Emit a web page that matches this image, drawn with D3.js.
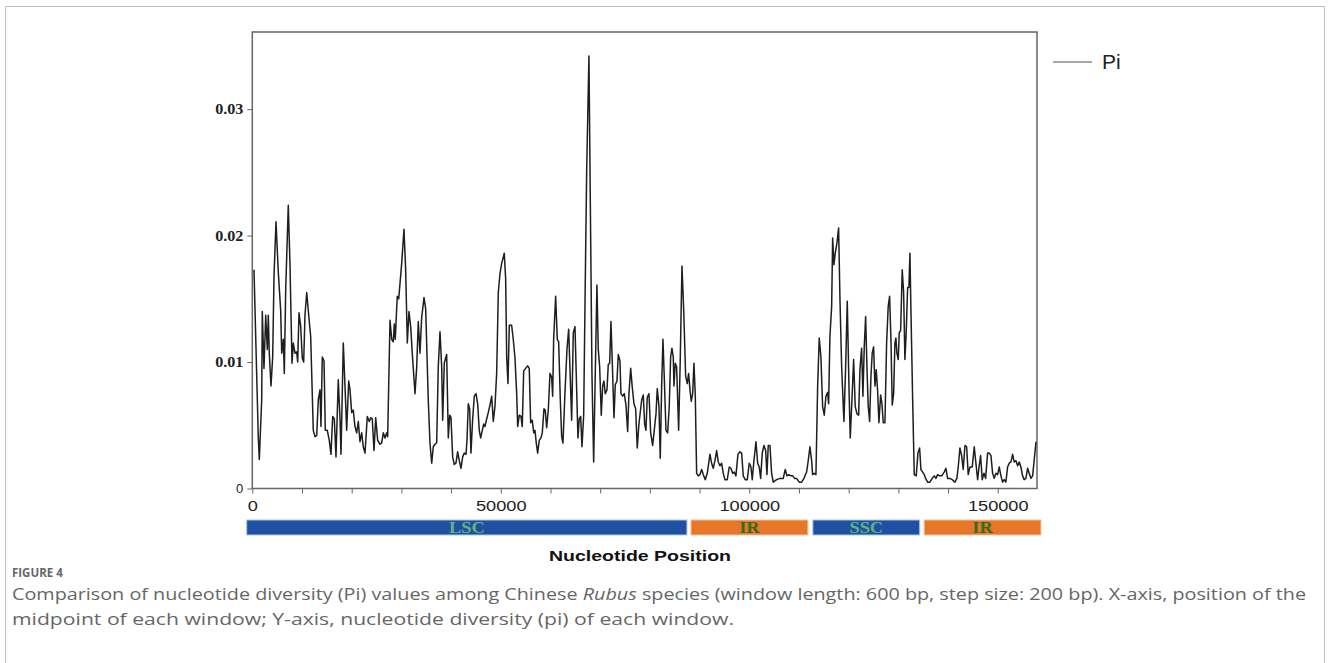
<!DOCTYPE html>
<html lang="en">
<head>
<meta charset="UTF-8">
<title>Figure 4 - Nucleotide diversity (Pi)</title>
<script src="https://d3js.org/d3.v7.min.js"></script>
<style>
  body { margin: 0; background: #fff; }
  svg { display: block; }
  .ylab { font-family: "Liberation Serif", "Times New Roman", serif; font-weight: bold; font-size: 14px; fill: #222; }
  .ylab0 { font-family: "Liberation Sans", Arial, sans-serif; font-weight: normal; font-size: 13px; fill: #222; }
  .xlab { font-family: "Liberation Sans", Arial, sans-serif; font-size: 14px; fill: #222; }
  .caption { font-family: "Open Sans", sans-serif; fill: #666; }
</style>
</head>
<body>
<svg width="1330" height="663"></svg>
<script>
// window midpoints, in kb
const posKb = [
  0.34, 1.21, 1.41, 1.89, 2.01, 2.35, 2.70, 3.02, 3.22, 3.42,
  3.76, 4.10, 4.37, 4.77, 5.23, 5.71, 5.92, 6.24, 6.44, 6.72,
  7.24, 7.59, 7.99, 8.25, 8.59, 8.93, 9.13, 9.40, 9.74, 10.06,
  10.34, 10.60, 10.95, 11.35, 11.75, 12.27, 12.62, 12.96, 13.28, 13.62,
  13.82, 14.08, 14.43, 14.69, 15.09, 15.49, 15.83, 16.18, 16.50, 16.84,
  17.30, 17.65, 17.85, 18.31, 18.65, 18.99, 19.40, 19.66, 20.00, 20.32,
  20.66, 21.01, 21.33, 21.67, 22.01, 22.33, 22.68, 23.14, 23.54, 23.82,
  24.14, 24.49, 24.83, 25.23, 25.69, 26.04, 26.36, 26.70, 27.04, 27.24,
  27.71, 28.05, 28.37, 28.57, 28.77, 29.17, 29.46, 30.06, 30.52, 30.86,
  31.19, 31.53, 31.87, 32.19, 32.74, 33.08, 33.40, 33.74, 34.08, 34.55,
  34.89, 35.41, 35.75, 36.10, 36.42, 36.76, 37.10, 37.42, 37.77, 38.11,
  38.31, 38.63, 39.11,
  39.44, 39.72, 39.98, 40.32, 40.64, 40.98, 41.32, 41.65, 41.99, 42.33,
  42.65, 43.00, 43.20, 43.46, 43.74, 44.00, 44.34, 44.67, 45.01, 45.35,
  45.67, 45.95, 46.28, 46.56, 46.82, 47.16, 47.48, 47.83, 48.17, 48.49,
  48.83, 49.17, 49.50, 49.84, 50.18, 50.70, 50.98, 51.19, 51.45, 51.71,
  52.19, 52.51, 52.86, 53.20, 53.40, 53.72, 54.06, 54.32, 54.61, 55.01,
  55.41, 55.73, 56.01, 56.34, 56.62, 56.88, 57.14, 57.42, 57.74, 58.09,
  58.35, 58.69, 58.95, 59.23, 59.56, 59.90, 60.24, 60.44, 60.64, 61.04,
  61.37, 61.65, 61.97, 62.25, 62.51, 62.91, 63.32, 63.66, 63.92, 64.26,
  64.59, 64.93, 65.27, 65.53, 65.79, 66.07, 66.34, 66.68, 66.94, 67.28,
  67.74, 68.09, 68.35, 68.69, 69.01, 69.35, 69.62, 69.90, 70.22, 70.50,
  70.76, 71.02, 71.37, 71.63, 71.91, 72.17, 72.43, 72.78, 73.04, 73.38,
  73.64, 73.98, 74.18, 74.53, 74.85, 75.19, 75.53, 75.79, 76.14, 76.46,
  76.80, 77.14, 77.46, 77.80,
  78.35, 78.67, 78.95, 79.21, 79.47, 79.82, 80.16, 80.56, 80.88, 81.23,
  81.49, 81.83, 82.09, 82.37, 82.63, 82.89, 83.24, 83.58, 83.90, 84.18,
  84.44, 84.71, 84.85, 85.11, 85.39, 85.79, 86.11, 86.46, 86.80, 87.20,
  87.52, 87.80, 88.07, 88.33, 88.61, 88.87, 89.13, 89.41, 89.74, 90.08,
  90.42, 90.74, 91.14, 91.55, 92.09, 92.43, 92.75, 93.10, 93.44, 93.76,
  94.10, 94.44, 94.77, 95.11, 95.57, 95.97, 96.31, 96.66, 96.98, 97.32,
  97.72, 98.12, 98.47, 98.79, 99.19, 99.60, 100.00, 100.34, 100.60, 100.94,
  101.35, 101.69, 102.01, 102.29, 102.61, 102.95, 103.30, 103.56, 103.82, 104.16,
  104.50, 104.83, 105.51, 106.17, 106.84, 107.24, 107.58, 107.98, 108.33, 108.73,
  109.13, 109.53, 110.06, 110.54, 111.00, 111.54, 111.87, 112.21, 112.55, 112.75,
  113.07, 113.42, 113.76, 114.08, 114.42, 114.76, 115.09, 115.43, 115.77, 115.97,
  116.23, 116.58, 116.78, 117.04, 117.30, 117.64, 117.98,
  118.25, 118.59, 119.05, 119.39, 119.72, 120.06, 120.32, 120.66, 121.00, 121.32,
  121.67, 122.01, 122.27, 122.61, 122.87, 123.14, 123.42, 123.68, 123.94, 124.22,
  124.48, 124.74, 125.02, 125.29, 125.55, 125.83, 126.09, 126.43, 126.70, 126.96,
  127.30, 127.64, 127.96, 128.24, 128.51, 128.77, 129.05, 129.31, 129.51, 129.71,
  129.98, 130.18, 130.46, 130.78, 131.06, 131.32, 131.58, 131.87, 132.13, 132.33,
  132.53, 132.88, 133.20, 133.60, 133.94, 134.28, 134.54, 134.88, 135.21, 135.49,
  135.89, 136.35, 136.81, 137.22, 137.56, 137.90, 138.30, 138.71, 139.23, 139.57,
  139.91, 140.38, 140.84, 141.38, 141.78, 142.05, 142.39, 142.73, 143.05, 143.40,
  143.74, 144.06, 144.40, 144.87, 145.27, 145.61, 145.95, 146.27, 146.55, 146.88,
  147.22, 147.56, 147.96, 148.29, 148.63, 148.97, 149.29, 149.63, 149.98, 150.30,
  150.64, 150.98, 151.30, 151.64, 151.98, 152.31, 152.65, 152.99, 153.31, 153.66,
  154.00, 154.32, 154.66, 155.00, 155.33, 155.67, 156.01, 156.33, 156.67, 157.02,
  157.70
];

// nucleotide diversity of each window
const piValues = [
  0.0173, 0.0040, 0.0023, 0.0070, 0.0140, 0.0095, 0.0137, 0.0110, 0.0137, 0.0107,
  0.0081, 0.0104, 0.0168, 0.0211, 0.0171, 0.0141, 0.0107, 0.0118, 0.0091, 0.0157,
  0.0224, 0.0176, 0.0099, 0.0115, 0.0107, 0.0108, 0.0100, 0.0139, 0.0128, 0.0103,
  0.0100, 0.0137, 0.0155, 0.0137, 0.0120, 0.0046, 0.0041, 0.0042, 0.0070, 0.0078,
  0.0049, 0.0104, 0.0101, 0.0046, 0.0046, 0.0038, 0.0027, 0.0057, 0.0055, 0.0025,
  0.0086, 0.0055, 0.0027, 0.0115, 0.0081, 0.0046, 0.0085, 0.0078, 0.0060, 0.0062,
  0.0049, 0.0044, 0.0053, 0.0037, 0.0044, 0.0033, 0.0028, 0.0057, 0.0053, 0.0056,
  0.0055, 0.0030, 0.0056, 0.0038, 0.0035, 0.0036, 0.0044, 0.0040, 0.0044, 0.0041,
  0.0133, 0.0118, 0.0116, 0.0130, 0.0118, 0.0152, 0.0150, 0.0178, 0.0205, 0.0173,
  0.0115, 0.0140, 0.0128, 0.0107, 0.0075, 0.0096, 0.0132, 0.0107, 0.0135, 0.0151,
  0.0142, 0.0070, 0.0036, 0.0020, 0.0033, 0.0035, 0.0036, 0.0096, 0.0124, 0.0096,
  0.0054, 0.0099, 0.0106,
  0.0040, 0.0058, 0.0056, 0.0025, 0.0019, 0.0020, 0.0029, 0.0022, 0.0016, 0.0025,
  0.0028, 0.0027, 0.0038, 0.0067, 0.0063, 0.0028, 0.0055, 0.0073, 0.0075, 0.0067,
  0.0046, 0.0040, 0.0046, 0.0051, 0.0049, 0.0055, 0.0060, 0.0066, 0.0073, 0.0053,
  0.0065, 0.0091, 0.0155, 0.0170, 0.0178, 0.0186, 0.0166, 0.0104, 0.0083, 0.0129,
  0.0129, 0.0118, 0.0103, 0.0075, 0.0049, 0.0058, 0.0057, 0.0049, 0.0093, 0.0095,
  0.0097, 0.0095, 0.0052, 0.0054, 0.0044, 0.0046, 0.0036, 0.0028, 0.0038, 0.0040,
  0.0044, 0.0063, 0.0062, 0.0048, 0.0062, 0.0091, 0.0088, 0.0073, 0.0118, 0.0152,
  0.0118, 0.0116, 0.0071, 0.0041, 0.0036, 0.0075, 0.0110, 0.0126, 0.0095, 0.0054,
  0.0123, 0.0128, 0.0078, 0.0040, 0.0055, 0.0057, 0.0033, 0.0058, 0.0144, 0.0250,
  0.0342, 0.0197, 0.0090, 0.0021, 0.0090, 0.0161, 0.0110, 0.0096, 0.0058, 0.0081,
  0.0085, 0.0075, 0.0078, 0.0098, 0.0099, 0.0132, 0.0101, 0.0056, 0.0082, 0.0085,
  0.0106, 0.0101, 0.0075, 0.0073, 0.0075, 0.0066, 0.0045, 0.0075, 0.0095, 0.0080,
  0.0067, 0.0063, 0.0032, 0.0051,
  0.0070, 0.0074, 0.0051, 0.0046, 0.0072, 0.0075, 0.0044, 0.0034, 0.0046, 0.0059,
  0.0079, 0.0065, 0.0024, 0.0081, 0.0118, 0.0089, 0.0046, 0.0044, 0.0065, 0.0104,
  0.0111, 0.0104, 0.0081, 0.0099, 0.0096, 0.0046, 0.0101, 0.0176, 0.0142, 0.0089,
  0.0083, 0.0091, 0.0078, 0.0069, 0.0075, 0.0099, 0.0075, 0.0012, 0.0010, 0.0011,
  0.0015, 0.0011, 0.0007, 0.0012, 0.0027, 0.0020, 0.0016, 0.0022, 0.0030, 0.0021,
  0.0018, 0.0020, 0.0012, 0.0007, 0.0007, 0.0017, 0.0016, 0.0012, 0.0013, 0.0010,
  0.0027, 0.0029, 0.0028, 0.0010, 0.0007, 0.0007, 0.0020, 0.0017, 0.0007, 0.0022,
  0.0037, 0.0020, 0.0017, 0.0008, 0.0028, 0.0034, 0.0030, 0.0011, 0.0034, 0.0034,
  0.0012, 0.0005, 0.0007, 0.0008, 0.0008, 0.0015, 0.0010, 0.0011, 0.0010, 0.0010,
  0.0008, 0.0008, 0.0005, 0.0005, 0.0008, 0.0013, 0.0022, 0.0033, 0.0022, 0.0011,
  0.0012, 0.0011, 0.0081, 0.0119, 0.0104, 0.0065, 0.0058, 0.0073, 0.0076, 0.0067,
  0.0120, 0.0144, 0.0198, 0.0177, 0.0186, 0.0194, 0.0206,
  0.0150, 0.0096, 0.0053, 0.0096, 0.0148, 0.0081, 0.0040, 0.0070, 0.0102, 0.0065,
  0.0059, 0.0058, 0.0094, 0.0111, 0.0073, 0.0112, 0.0136, 0.0096, 0.0065, 0.0053,
  0.0088, 0.0107, 0.0112, 0.0081, 0.0094, 0.0077, 0.0052, 0.0074, 0.0067, 0.0052,
  0.0052, 0.0115, 0.0144, 0.0152, 0.0118, 0.0066, 0.0075, 0.0115, 0.0119, 0.0107,
  0.0102, 0.0123, 0.0125, 0.0173, 0.0155, 0.0102, 0.0123, 0.0159, 0.0159, 0.0186,
  0.0142, 0.0070, 0.0011, 0.0010, 0.0028, 0.0032, 0.0015, 0.0013, 0.0011, 0.0008,
  0.0005, 0.0005, 0.0008, 0.0010, 0.0008, 0.0011, 0.0010, 0.0010, 0.0013, 0.0016,
  0.0008, 0.0008, 0.0007, 0.0005, 0.0008, 0.0017, 0.0032, 0.0026, 0.0015, 0.0034,
  0.0033, 0.0011, 0.0017, 0.0017, 0.0033, 0.0020, 0.0007, 0.0018, 0.0026, 0.0007,
  0.0012, 0.0008, 0.0028, 0.0028, 0.0026, 0.0012, 0.0008, 0.0012, 0.0011, 0.0017,
  0.0010, 0.0005, 0.0007, 0.0005, 0.0017, 0.0020, 0.0021, 0.0027, 0.0021, 0.0022,
  0.0018, 0.0021, 0.0017, 0.0010, 0.0007, 0.0008, 0.0016, 0.0012, 0.0008, 0.0010,
  0.0037
];

const yTicks = [0, 0.01, 0.02, 0.03];
const xLabelTicks = [0, 50000, 100000, 150000];

// genome regions under the axis (bp)
const regionNames = ["LSC", "IR", "SSC", "IR"];
const regionStart = [-1130, 88270, 112800, 135200];
const regionEnd   = [87460, 111800, 134300, 158700];

const seriesName = "Pi";
const xTitle = "Nucleotide Position";

const svg = d3.select("svg");

const x = d3.scaleLinear().domain([0, 157900]).range([252.3, 1037]);
const y = d3.scaleLinear().domain([0, 0.0361]).range([488.5, 32]);

// stretch text a bit sideways, the original figure is wider than its fonts
function stretch(sel, k) {
  sel.each(function () {
    const w = this.getComputedTextLength();
    d3.select(this).attr("textLength", w * k).attr("lengthAdjust", "spacingAndGlyphs");
  });
}

// figure border
svg.append("rect")
  .attr("x", 5.5).attr("y", 6.5)
  .attr("width", 1319).attr("height", 720)
  .attr("fill", "none")
  .attr("stroke", "#c0c0c0");

// x axis
const xg = svg.append("g")
  .attr("transform", `translate(0,${y(0)})`)
  .call(d3.axisBottom(x)
    .tickValues(d3.range(0, 157900, 10000))
    .tickSize(5)
    .tickPadding(8)
    .tickFormat(d => xLabelTicks.includes(d) ? d : ""));
xg.select(".domain").remove();
xg.selectAll(".tick line").attr("stroke", "#666");
xg.selectAll(".tick text").attr("class", "xlab").call(stretch, 1.3);

// y axis
const yg = svg.append("g")
  .attr("transform", `translate(${x(0)},0)`)
  .call(d3.axisLeft(y)
    .tickValues(yTicks)
    .tickSize(5)
    .tickPadding(4)
    .tickFormat(d => d === 0 ? "0" : d3.format(".2f")(d)));
yg.select(".domain").remove();
yg.selectAll(".tick line").attr("stroke", "#666");
yg.selectAll(".tick text")
  .attr("class", d => d === 0 ? "ylab0" : "ylab")
  .filter(d => d !== 0).call(stretch, 1.15);

// plot frame
svg.append("rect")
  .attr("x", x(0)).attr("y", y(0.0361))
  .attr("width", x(157900) - x(0)).attr("height", y(0) - y(0.0361))
  .attr("fill", "none")
  .attr("stroke", "#666")
  .attr("stroke-width", 1.5);

// Pi line
const points = posKb.map((p, i) => [p * 1000, piValues[i]]);
const line = d3.line().x(d => x(d[0])).y(d => y(d[1]));
svg.append("path")
  .datum(points)
  .attr("d", line)
  .attr("fill", "none")
  .attr("stroke", "#1e1e1e")
  .attr("stroke-width", 1.5)
  .attr("stroke-linejoin", "round");

// legend
svg.append("line")
  .attr("x1", 1053).attr("x2", 1092)
  .attr("y1", 62).attr("y2", 62)
  .attr("stroke", "#555").attr("stroke-width", 1.2);
svg.append("text")
  .attr("x", 1102).attr("y", 69)
  .attr("font-family", "Liberation Sans, Arial, sans-serif")
  .attr("font-size", 21)
  .attr("fill", "#222")
  .text(seriesName);

// region bars
const regions = regionNames.map((n, i) => ({ name: n, start: regionStart[i], end: regionEnd[i] }));
const rg = svg.append("g");
rg.selectAll("rect")
  .data(regions)
  .join("rect")
  .attr("x", d => x(d.start))
  .attr("y", 520)
  .attr("width", d => x(d.end) - x(d.start))
  .attr("height", 15)
  .attr("fill", d => d.name === "IR" ? "#e8762a" : "#2150a2")
  .attr("stroke", d => d.name === "IR" ? "#f6c39c" : "#a9c8ec")
  .attr("stroke-width", 1);
rg.selectAll("text")
  .data(regions)
  .join("text")
  .attr("x", d => (x(d.start) + x(d.end)) / 2)
  .attr("y", 533)
  .attr("text-anchor", "middle")
  .attr("font-family", "Liberation Serif, Times New Roman, serif")
  .attr("font-weight", "bold")
  .attr("font-size", 16)
  .attr("fill", d => d.name === "IR" ? "#2f6e1c" : "#5cb87c")
  .text(d => d.name)
  .call(stretch, 1.15);

// x title
svg.append("text")
  .attr("x", 640).attr("y", 561)
  .attr("text-anchor", "middle")
  .attr("font-family", "Liberation Sans, Arial, sans-serif")
  .attr("font-weight", "bold")
  .attr("font-size", 15)
  .attr("fill", "#111")
  .text(xTitle)
  .call(stretch, 1.3);

// caption
svg.append("text")
  .attr("class", "caption")
  .attr("x", 12).attr("y", 577)
  .attr("font-size", 11.5)
  .attr("font-weight", "bold")
  .text("FIGURE 4");

const cap1 = svg.append("text").attr("class", "caption")
  .attr("x", 12).attr("y", 600).attr("font-size", 17)
  .attr("textLength", 1294).attr("lengthAdjust", "spacingAndGlyphs");
cap1.append("tspan").text("Comparison of nucleotide diversity (Pi) values among Chinese ");
cap1.append("tspan").attr("font-style", "italic").text("Rubus");
cap1.append("tspan").text(" species (window length: 600 bp, step size: 200 bp). X-axis, position of the");

svg.append("text").attr("class", "caption")
  .attr("x", 12).attr("y", 625).attr("font-size", 17)
  .attr("textLength", 722).attr("lengthAdjust", "spacingAndGlyphs")
  .text("midpoint of each window; Y-axis, nucleotide diversity (pi) of each window.");
</script>
</body>
</html>
